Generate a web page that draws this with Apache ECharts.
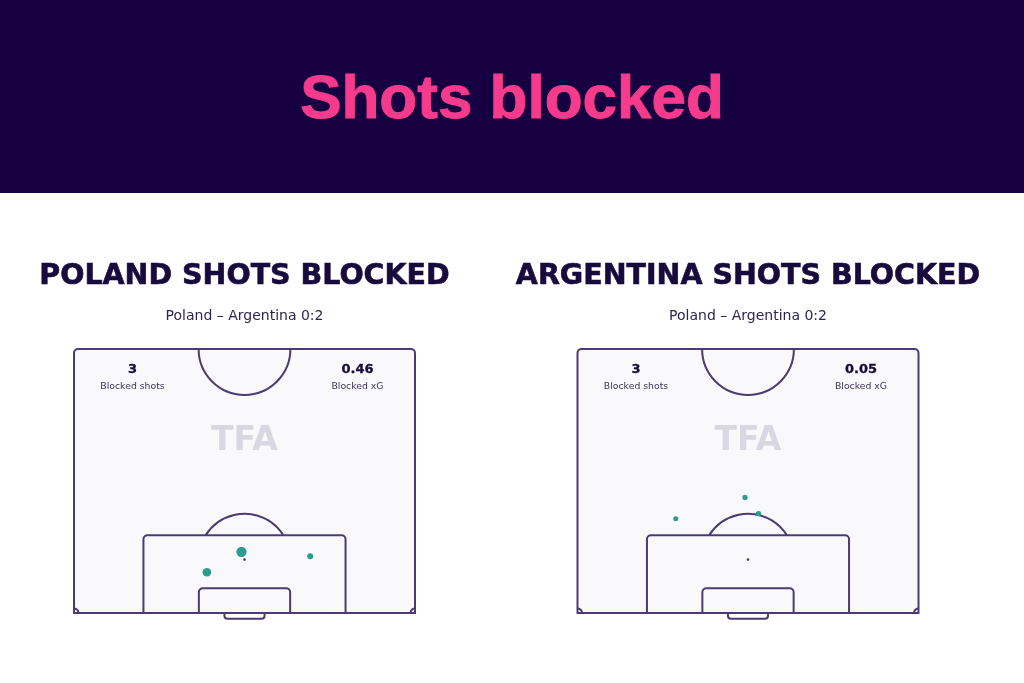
<!DOCTYPE html>
<html>
<head>
<meta charset="utf-8">
<script src="https://cdn.jsdelivr.net/npm/echarts@6/dist/echarts.min.js"></script>
<style>html,body{margin:0;padding:0;background:#fff;}#c{width:1024px;height:683px;}</style>
</head>
<body>
<div id="c"></div>
<script>
// ---- data ----
const mainTitle = 'Shots blocked';
const panelTitles = ['POLAND SHOTS BLOCKED', 'ARGENTINA SHOTS BLOCKED'];
const matchLabels = ['Poland – Argentina 0:2', 'Poland – Argentina 0:2'];
const blockedShots = ['3', '3'];
const blockedXG = ['0.46', '0.05'];
const statLabels = ['Blocked shots', 'Blocked xG'];
// shot locations: x across pitch (m, 0-68), y = distance from goal line (m), xG
const polandShotX = [33.4, 26.5, 47.1];
const polandShotY = [12.6, 8.4, 11.7];
const polandShotXG = [0.24, 0.17, 0.05];
const argentinaShotX = [33.4, 19.6, 36.1];
const argentinaShotY = [23.8, 19.4, 20.5];
const argentinaShotXG = [0.02, 0.01, 0.02];

// ---- layout ----
const PW = 68, PH = 54.4;
const gridLefts = [74, 577.5];
const gridTop = 349, gridW = 341, gridH = 264;
const LINE = '#4b3b72';
const DOT = '#2a9d8f';

function cornerPoints(cx, cy, r, dir) {
  const pts = [];
  for (let k = 0; k <= 12; k++) {
    const t = (k / 12) * Math.PI / 2;
    pts.push([cx + dir * r * Math.sin(t), cy - r * Math.cos(t)]);
  }
  return pts;
}

function pitchRender(params, api) {
  const c = (x, y) => api.coord([x, y]);
  const bl = c(0, 0), tr = c(PW, PH);
  const pxPerM = (tr[0] - bl[0]) / PW;
  const ls = {stroke: LINE, lineWidth: 2, fill: null};
  const els = [];
  // outline
  els.push({type: 'rect', shape: {x: bl[0], y: tr[1], width: tr[0] - bl[0], height: bl[1] - tr[1], r: [4, 4, 0, 0]},
    style: {fill: '#f9f9fb', stroke: LINE, lineWidth: 2}});
  // center circle (lower half)
  const cc = c(PW / 2, PH);
  els.push({type: 'arc', shape: {cx: cc[0], cy: cc[1], r: 9.15 * pxPerM, startAngle: 0, endAngle: Math.PI, clockwise: true}, style: ls});
  // penalty box
  const pb1 = c(PW / 2 - 20.15, 16.0), pb2 = c(PW / 2 + 20.15, 0);
  els.push({type: 'rect', shape: {x: pb1[0], y: pb1[1], width: pb2[0] - pb1[0], height: pb2[1] - pb1[1], r: [4, 4, 0, 0]}, style: ls});
  // goal area
  const ga1 = c(PW / 2 - 9.1, 5.1), ga2 = c(PW / 2 + 9.1, 0);
  els.push({type: 'rect', shape: {x: ga1[0], y: ga1[1], width: ga2[0] - ga1[0], height: ga2[1] - ga1[1], r: [4, 4, 0, 0]}, style: ls});
  // penalty spot
  const ps = c(PW / 2, 11);
  els.push({type: 'circle', shape: {cx: ps[0], cy: ps[1], r: 1.3}, style: {fill: LINE}});
  // penalty arc
  const r = 9.15 * pxPerM;
  const dy = ps[1] - pb1[1];
  const a = Math.asin(Math.min(1, dy / r));
  els.push({type: 'arc', shape: {cx: ps[0], cy: ps[1], r: r, startAngle: -Math.PI + a, endAngle: -a, clockwise: true}, style: ls});
  // goal
  const g1 = c(PW / 2 - 4.0, 0), g2 = c(PW / 2 + 4.0, -1.2);
  els.push({type: 'rect', shape: {x: g1[0], y: g1[1], width: g2[0] - g1[0], height: g2[1] - g1[1], r: [0, 0, 3, 3]}, style: ls});
  // corner arcs (inside the pitch)
  const cr = 4.5;
  els.push({type: 'polyline', shape: {points: cornerPoints(bl[0], bl[1], cr, 1)}, style: ls});
  els.push({type: 'polyline', shape: {points: cornerPoints(tr[0], bl[1], cr, -1)}, style: ls});
  return {type: 'group', children: els};
}

const shotSets = [
  polandShotX.map((x, i) => [x, polandShotY[i], polandShotXG[i]]),
  argentinaShotX.map((x, i) => [x, argentinaShotY[i], argentinaShotXG[i]])
];

const grids = [], xAxes = [], yAxes = [], series = [], graphics = [];
graphics.push({type: 'rect', left: 0, top: 0, shape: {width: 1024, height: 193}, style: {fill: '#170041'}, z: -1});

gridLefts.forEach((gl, i) => {
  grids.push({left: gl, top: gridTop, width: gridW, height: gridH});
  xAxes.push({gridIndex: i, type: 'value', min: 0, max: PW, show: false});
  yAxes.push({gridIndex: i, type: 'value', min: 0, max: PH, show: false});
  series.push({type: 'custom', xAxisIndex: i, yAxisIndex: i, data: [[0, 0]], renderItem: pitchRender, silent: true, z: 1, clip: false});
  series.push({type: 'scatter', xAxisIndex: i, yAxisIndex: i, data: shotSets[i], z: 5,
    symbolSize: v => 4.8 + 23 * v[2], itemStyle: {color: DOT, opacity: 1}});
  const cx = gl + gridW / 2;
  graphics.push({type: 'text', x: cx, y: 277, style: {text: panelTitles[i], fill: '#170a3c', stroke: '#170a3c', lineWidth: 0.6, font: 'bold 28.5px "DejaVu Sans"', textAlign: 'center', textVerticalAlign: 'middle'}});
  graphics.push({type: 'text', x: cx, y: 316, style: {text: matchLabels[i], fill: '#2e2450', font: '14px "DejaVu Sans"', textAlign: 'center', textVerticalAlign: 'middle'}});
  const sx1 = gl + 58.5, sx2 = gl + 283.5;
  graphics.push({type: 'text', x: sx1, y: 370, z: 10, style: {text: blockedShots[i], fill: '#170a3c', stroke: '#170a3c', lineWidth: 0.3, font: 'bold 13px "DejaVu Sans"', textAlign: 'center', textVerticalAlign: 'middle'}});
  graphics.push({type: 'text', x: sx1, y: 386.5, z: 10, style: {text: statLabels[0], fill: '#3d3358', font: '9.3px "DejaVu Sans"', textAlign: 'center', textVerticalAlign: 'middle'}});
  graphics.push({type: 'text', x: sx2, y: 370, z: 10, style: {text: blockedXG[i], fill: '#170a3c', stroke: '#170a3c', lineWidth: 0.3, font: 'bold 13px "DejaVu Sans"', textAlign: 'center', textVerticalAlign: 'middle'}});
  graphics.push({type: 'text', x: sx2, y: 386.5, z: 10, style: {text: statLabels[1], fill: '#3d3358', font: '9.3px "DejaVu Sans"', textAlign: 'center', textVerticalAlign: 'middle'}});
  graphics.push({type: 'text', x: cx, y: 441, z: 10, style: {text: 'TFA', fill: '#d9d7e1', font: 'bold 33px "DejaVu Sans"', textAlign: 'center', textVerticalAlign: 'middle'}});
});

const chart = echarts.init(document.getElementById('c'), null, {renderer: 'canvas'});
chart.setOption({
  animation: false,
  backgroundColor: '#ffffff',
  title: {text: mainTitle, left: 'center', top: 65, textStyle: {color: '#f73b8c', fontSize: 62, fontWeight: 'bold', fontFamily: 'Liberation Sans', textBorderColor: '#f73b8c', textBorderWidth: 1}},
  grid: grids, xAxis: xAxes, yAxis: yAxes, series: series, graphic: graphics
});
</script>
</body>
</html>
